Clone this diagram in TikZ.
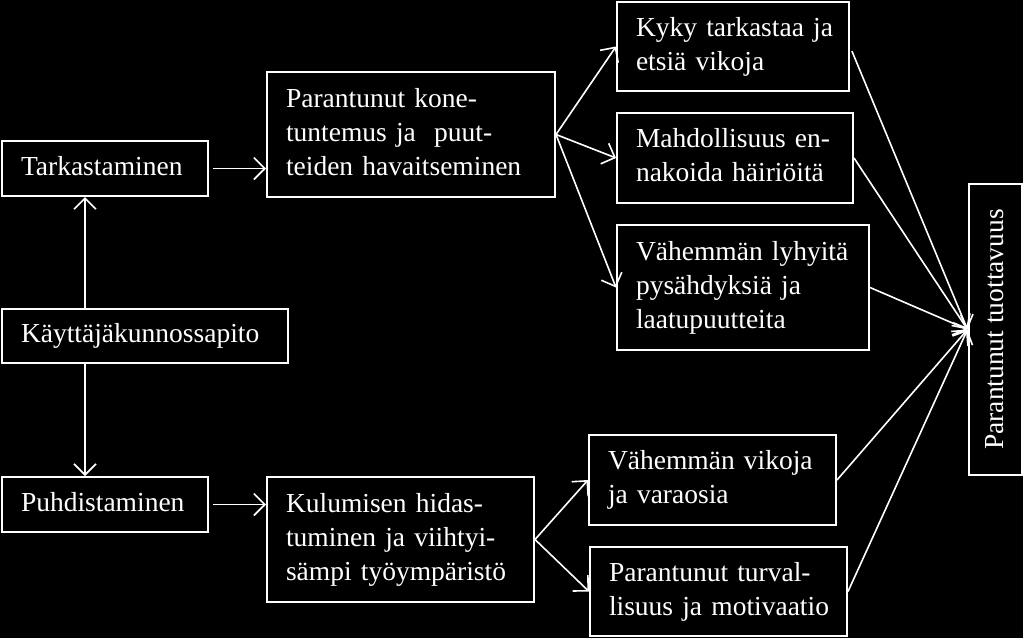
\documentclass[tikz,border=0pt]{standalone}
\usepackage{fontspec}
\setmainfont{Liberation Serif}
\usetikzlibrary{arrows.meta}
\newcommand\lns[1]{\begin{tabular}{@{}l@{}}#1\end{tabular}}
\begin{document}
\begin{tikzpicture}[x=1pt,y=-1pt,
  bx/.style={draw=white, line width=2pt, fill=black, text=white, inner xsep=19pt, inner ysep=2pt,
    align=left, font=\fontsize{27.5}{34}\selectfont},
  arr/.style={draw=white, line width=1.6pt, -{Straight Barb[length=11pt,width=22pt,line width=1.6pt]}}]
\fill[black] (0,0) rectangle (1023,638);
\useasboundingbox (0,0) rectangle (1023,638);

\node[bx, minimum width=206pt, text width=168pt, minimum height=55pt] (tark) at (105,168.5) {\lns{Tarkastaminen}};
\node[bx, minimum width=286pt, text width=248pt, minimum height=54pt] (kay) at (145,336) {\lns{Käyttäjäkunnossapito}};
\node[bx, minimum width=206pt, text width=168pt, minimum height=55pt] (puh) at (105,504.5) {\lns{Puhdistaminen}};
\node[bx, minimum width=288pt, text width=250pt, minimum height=125pt] (kone) at (411,134.5) {\lns{Parantunut kone-\\tuntemus ja\ \ puut-\\teiden havaitseminen}};
\node[bx, minimum width=267pt, text width=229pt, minimum height=125pt] (kul) at (400.5,539.5) {\lns{Kulumisen hidas-\\tuminen ja viihtyi-\\sämpi työympäristö}};
\node[bx, minimum width=232pt, text width=194pt, minimum height=89pt] (kyky) at (733,46.5) {\lns{Kyky tarkastaa ja\\etsiä vikoja}};
\node[bx, minimum width=236pt, text width=198pt, minimum height=90pt] (mahd) at (735,158) {\lns{Mahdollisuus en-\\nakoida häiriöitä}};
\node[bx, minimum width=252pt, text width=214pt, minimum height=125pt] (lyh) at (743,287.5) {\lns{Vähemmän lyhyitä\\pysähdyksiä ja\\laatupuutteita}};
\node[bx, minimum width=247pt, text width=209pt, minimum height=90pt] (vik) at (712.5,480) {\lns{Vähemmän vikoja\\ja varaosia}};
\node[bx, minimum width=257pt, text width=219pt, minimum height=89pt] (turv) at (718.5,591.5) {\lns{Parantunut turval-\\lisuus ja motivaatio}};
\node[draw=white, line width=2pt, fill=black, minimum width=53pt, minimum height=291pt, inner sep=0pt] (tuot) at (995,329.5) {};
\node[text=white, rotate=90, font=\fontsize{27.5}{34}\selectfont] (tuottxt) at (tuot.center) {Parantunut tuottavuus};

\draw[arr] ([xshift=84pt]kay.north west) -- ([xshift=84pt]tark.south west);
\draw[arr] ([xshift=84pt]kay.south west) -- ([xshift=84pt]puh.north west);
\draw[arr, shorten <=4pt] (tark.east) -- (kone.west |- tark.east);
\draw[arr, shorten <=4pt] (puh.east) -- (kul.west |- puh.east);

\draw[arr] (kone.east) -- (kyky.west);
\draw[arr] (kone.east) -- (mahd.west);
\draw[arr] (kone.east) -- (lyh.west);
\draw[arr] (kul.east) -- (vik.west);
\draw[arr] (kul.east) -- (turv.west);

\draw[arr, shorten <=5pt] (kyky.east) -- (tuot.west);
\draw[arr] (mahd.east) -- (tuot.west);
\draw[arr] (lyh.east) -- (tuot.west);
\draw[arr] (vik.east) -- (tuot.west);
\draw[arr] (turv.east) -- (tuot.west);
\end{tikzpicture}
\end{document}
